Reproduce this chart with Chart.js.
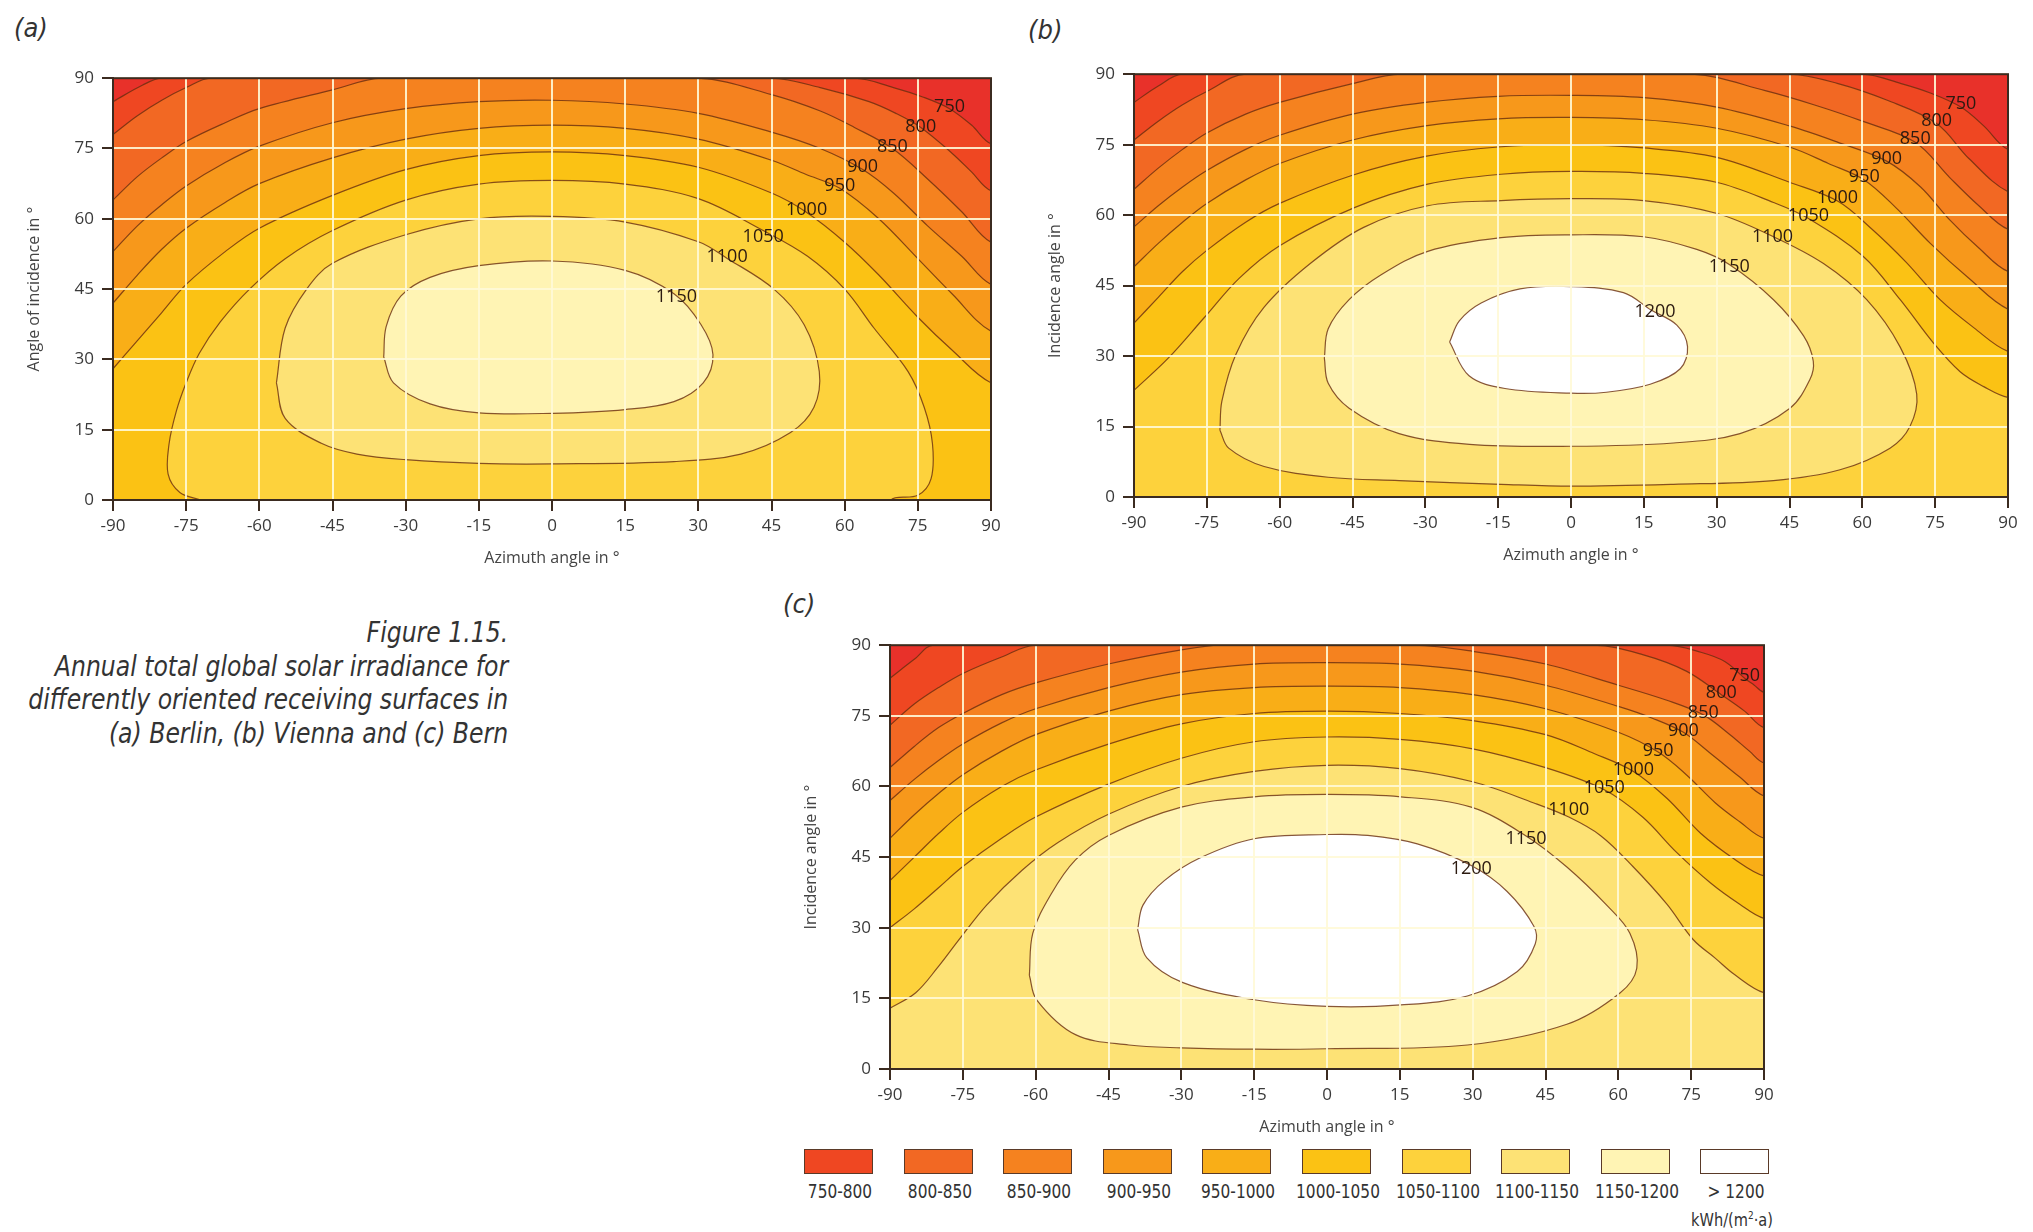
<!DOCTYPE html>
<html>
<head>
<meta charset="utf-8">
<script src="https://cdn.jsdelivr.net/npm/chart.js@4.4.1/dist/chart.umd.min.js"></script>
<style>
  body { margin: 0; width: 2033px; height: 1232px; background: #fff; position: relative; overflow: hidden; font-family: "Open Sans", sans-serif; }
  canvas { position: absolute; }
  .tag { position: absolute; font-family: "Liberation Sans Narrow", "DejaVu Sans Condensed", sans-serif; font-style: italic; font-size: 27px; color: #333; }
  .caption { position: absolute; right: 1525px; top: 616px; text-align: right; font-family: "Liberation Sans Narrow", "DejaVu Sans Condensed", sans-serif; font-style: italic; font-size: 28px; line-height: 33.5px; color: #333; white-space: nowrap; transform: scaleX(0.935); transform-origin: right top; }
  .lg-box { position: absolute; top: 1149px; width: 67px; height: 23px; border: 1.5px solid #5a3a28; }
  .lg-txt { position: absolute; top: 1180px; width: 100px; text-align: center; font-family: "Liberation Sans Narrow", "DejaVu Sans Condensed", sans-serif; font-size: 19px; color: #333; transform: scaleX(0.9); }
  .unit { position: absolute; right: 260px; top: 1209px; font-family: "Liberation Sans Narrow", "DejaVu Sans Condensed", sans-serif; font-size: 18px; color: #333; transform: scaleX(0.9); transform-origin: right top; }
</style>
</head>
<body>
<div class="tag" style="left:14px;top:12px">(a)</div>
<div class="tag" style="left:1028px;top:14px">(b)</div>
<div class="tag" style="left:783px;top:588px">(c)</div>

<canvas id="chartA" width="988" height="510" style="left:23px;top:60px"></canvas>
<canvas id="chartB" width="984" height="511" style="left:1044px;top:56px"></canvas>
<canvas id="chartC" width="984" height="512" style="left:800px;top:627px"></canvas>

<div class="caption">Figure 1.15.<br>Annual total global solar irradiance for<br>differently oriented receiving surfaces in<br>(a) Berlin, (b) Vienna and (c) Bern</div>
<div id="legend"></div>
<div class="unit">kWh/(m<sup style="font-size:11px">2</sup>·a)</div>

<script>
// contour levels and legend
const levels = [750, 800, 850, 900, 950, 1000, 1050, 1100, 1150, 1200];
const legendText = ['750-800', '800-850', '850-900', '900-950', '950-1000', '1000-1050', '1050-1100', '1100-1150', '1150-1200', '> 1200'];
const bandColors = ['#ef4722', '#f26823', '#f5821f', '#f7981b', '#f9ae17', '#fbc214', '#fdd23c', '#fde275', '#fff4b4', '#ffffff'];
const belowColor = '#e8312a';

// (a) Berlin - contour lines as [azimuth, tilt]
const A750 = [[-90,85],[-84,88.5],[-80,90],[62,90],[70,88],[76,86],[81.5,83.5],[86,80],[90,76]];
const A800 = [[-90,78],[-85,82],[-80,85.3],[-75,88],[-70,90],[45,90],[55,88],[65,85],[70.5,82.5],[75.6,79.5],[82,74],[86,70],[90,66]];
const A850 = [[-90,64],[-85,69],[-80,73],[-75,76.5],[-67,80.5],[-60,83.5],[-45,87.5],[-35,90],[30,90],[45,86.5],[55,83],[62,79.5],[69.8,75],[77,68.5],[84,61.5],[90,55]];
const A900 = [[-90,53],[-85,58.5],[-80,63],[-75,67],[-67,72],[-60,75.5],[-45,80.5],[-30,83.5],[-15,85],[0,85.3],[15,84.5],[30,82.5],[45,78.5],[55,75],[63.7,70.5],[70,65.5],[77,58.5],[84,52],[90,46]];
const A950 = [[-90,42],[-85,48],[-80,53.5],[-75,58],[-67,63.5],[-60,67.5],[-45,73],[-30,77],[-15,79.3],[0,80],[15,79.3],[30,77],[45,72.5],[52,69.5],[59,66.5],[67,60],[75,51.5],[82,44],[90,36]];
const A1000 = [[-90,28],[-85,34],[-80,40],[-75,46],[-67,53],[-60,58],[-45,65],[-30,70.5],[-15,73.5],[0,74.3],[15,73.5],[30,71],[45,65.5],[52,61.5],[60,55],[67,48],[75,39],[82,32],[90,25]];
const A1050 = [[-72,0],[-76.3,1.6],[-78.7,5.5],[-78.5,12],[-77,19],[-75,25],[-72.3,31.3],[-68,38],[-62,45],[-54.7,51.5],[-45,57.5],[-30,64],[-15,67.4],[0,68.2],[15,67.4],[30,64.3],[43.3,57.5],[52.4,52],[60,45],[66,36.7],[73,27.4],[76.3,19.8],[78,12],[77.7,4.5],[75,1],[69.5,0]];
const A1100 = [[-56.5,25],[-54.7,36.7],[-50.3,45],[-45,50.5],[-30,56.6],[-15,60],[0,60.5],[15,59.3],[30,55.1],[36,51.5],[45.5,45],[51.7,37.4],[54.8,27.4],[53.7,19.8],[48.9,14.4],[38.7,9.8],[25,8.2],[0,7.7],[-15,7.8],[-30,8.6],[-40,9.8],[-47.3,12.1],[-54.7,17.4],[-56.5,25]];
const A1150 = [[-34.5,30.5],[-34,37],[-31,43.5],[-25,47.5],[-15,50],[0,51],[15,49],[25,44],[30.5,37.5],[33,31],[31,25],[25,21],[15,19.3],[0,18.5],[-15,18.6],[-25,20.5],[-32.5,25],[-34.5,30.5]];
const labelsA = [[750,81.5,83.9],[800,75.6,79.7],[850,69.8,75.3],[900,63.7,71.1],[950,59,67],[1000,52.2,61.8],[1050,43.3,56.1],[1100,35.9,51.8],[1150,25.5,43.4]];

// (b) Vienna
const B750 = [[-90,84],[-85,87.5],[-80,90],[60,90],[68,88],[74,86],[80.3,83],[85,79],[90,74]];
const B800 = [[-90,76],[-85,80],[-80,83.5],[-75,86.3],[-67,90],[45,90],[55,88],[65,84.5],[75.3,79.5],[82,72],[90,65]];
const B850 = [[-90,65.5],[-85,70],[-80,74],[-75,77.5],[-67,81.5],[-60,84],[-45,88],[-35,90],[25,90],[40,86.5],[50,83.5],[60,80],[70.9,75.5],[78,68],[84,62],[90,57]];
const B900 = [[-90,57.5],[-85,62],[-80,66],[-75,69.5],[-67,74],[-60,77],[-45,81.5],[-30,84],[-15,85.3],[0,85.5],[15,85],[30,83],[45,79],[55,75.5],[65,71.5],[72,66],[78,59],[84,53],[90,48]];
const B950 = [[-90,49],[-85,54],[-80,58.5],[-75,62.5],[-67,67.5],[-60,71],[-45,76],[-30,79],[-15,80.5],[0,80.8],[15,80.3],[30,78.5],[45,74.5],[53,71],[60.4,67.5],[67,61.5],[74,54],[82,46.5],[90,40]];
const B1000 = [[-90,37],[-85,42.5],[-80,48],[-75,52.5],[-67,58.5],[-60,62.5],[-45,68.5],[-30,72.5],[-15,74.5],[0,75],[15,74.3],[30,72.3],[45,67],[54.9,63],[62,57],[69,50],[76,42],[83,36],[90,31]];
const B1050 = [[-90,22.7],[-82.9,29.6],[-75.6,38.1],[-68.3,46.6],[-60,53.5],[-44.6,61.6],[-29.5,66.6],[-14.4,68.7],[0,69.3],[14.9,68.9],[29.9,67],[41.7,62.7],[48.9,59.3],[60.2,51.2],[67.8,42],[74.7,32.7],[80.2,26.6],[85,23.5],[90,21.2]];
const B1100 = [[-72.3,14.2],[-71.9,20.4],[-69,30.4],[-63.2,40.4],[-53.7,49.7],[-42.7,57.4],[-29.5,62],[-14.4,63.1],[0,63.5],[14.9,63.1],[29.9,60.4],[41.5,55.5],[52,49.7],[60.9,42],[67.8,31.9],[71.2,21.9],[69.8,15],[65.7,10.4],[55.4,5.8],[41.7,3.5],[21.1,2.7],[0,2.3],[-14.4,2.7],[-35.4,3.5],[-50,4.2],[-63.2,6.5],[-70.5,10.4],[-72.3,14.2]];
const B1150 = [[-50.8,29.6],[-50,35.8],[-45.7,42],[-39.1,47.3],[-29.5,52.3],[-14.4,55.2],[0,55.8],[14.9,55.4],[25.9,52.7],[32.6,49.5],[41.7,42],[47.9,34.3],[49.9,28.9],[49.2,25],[45.1,18.9],[34.8,13.5],[21.1,11.5],[0,10.8],[-20.9,11.2],[-35.4,13.5],[-45.7,18.9],[-50,24.2],[-50.8,29.6]];
const B1200 = [[-25,33],[-23,37.5],[-18.5,41.3],[-10.5,44.3],[0,44.8],[10.8,43.5],[16.5,39.8],[21.8,36.6],[24,32],[22.5,27.3],[16.3,24],[7.3,22.3],[0,22.1],[-13.6,23.1],[-21,25.8],[-25,33]];
const labelsB = [[750,80.3,83.7],[800,75.3,80],[850,70.9,76.2],[900,65,72],[950,60.4,68.1],[1000,54.9,63.7],[1050,48.9,59.8],[1100,41.5,55.3],[1150,32.6,48.9],[1200,17.3,39.5]];

// (c) Bern
const C750 = [[-90,83],[-85,87],[-81,90],[70,90],[77,88.5],[82,86.5],[86,83],[88,81.5],[90,80]];
const C800 = [[-90,73],[-85,77.5],[-80,81],[-75,84],[-67,87.5],[-60,90],[55,90],[65,88],[74,84.5],[81.2,79.5],[86,76],[90,72.5]];
const C850 = [[-90,64],[-85,68.5],[-80,72.5],[-75,75.5],[-67,79.5],[-60,82],[-45,86],[-30,89],[-22,90],[18,90],[30,88.7],[45,86],[60,81.5],[70,78.3],[77.5,75.2],[83,71],[87,67.5],[90,65]];
const C900 = [[-90,57],[-85,61.5],[-80,65.5],[-75,69],[-67,73.5],[-60,76.5],[-45,81],[-30,84.3],[-15,86],[0,86.3],[15,86],[30,84.5],[45,81.5],[60,77],[67,74.5],[73.4,71.5],[79,67],[85,62],[90,58]];
const C950 = [[-90,49],[-85,54],[-80,58.5],[-75,62.5],[-67,67.5],[-60,71],[-45,76],[-30,79.5],[-15,81],[0,81.3],[15,81],[30,79.5],[45,76.5],[60,71.5],[68.2,67.3],[74,62.5],[80,56.5],[85,52.5],[90,49]];
const C1000 = [[-90,40],[-85,45],[-80,50],[-75,54.5],[-67,60],[-60,63.5],[-45,69],[-30,73.3],[-15,75.5],[0,76],[15,75.5],[30,74],[45,71],[55,67],[63.1,63.2],[70,57.5],[77,50],[84,44.5],[90,41]];
const C1050 = [[-90,30],[-85,34],[-80,38.5],[-75,43],[-67,49],[-60,53.5],[-45,60.5],[-30,66],[-15,69.5],[0,70.5],[15,70],[30,68],[45,64],[57.1,59.3],[65,53.5],[72,46],[79,39.5],[85,35],[90,32]];
const C1100 = [[-90,12.9],[-84.7,16.2],[-80.3,21.4],[-75.9,27.3],[-70.1,34.8],[-62.8,42.2],[-55.4,48.1],[-45,54.1],[-30,60],[-15,63.2],[0,64.5],[15,63.8],[30,61],[42.6,56.5],[49.8,53.5],[56.3,49.6],[63,43],[70,35],[75.4,27.5],[80,23.5],[84,20],[90,16.2]];
const C1150 = [[-61.3,19.9],[-60.6,28.8],[-56.9,37],[-51.8,44.4],[-45,49.6],[-30,55.6],[-15,57.8],[0,58.3],[15.2,57.8],[29.7,55.6],[41,49.5],[49.4,42.9],[57.6,34.8],[62.4,28.8],[63.8,21.4],[60.4,16.2],[49.4,9.5],[28.9,5.1],[0,4.3],[-15,4.2],[-30,4.5],[-40.8,5.1],[-51.8,7.3],[-59.8,14.7],[-61.3,19.9]];
const C1200 = [[-39,29.6],[-37.9,34.8],[-33.5,40],[-26.2,44.8],[-15,48.9],[0,49.8],[8.4,49.6],[18.6,47.8],[29.7,43.2],[37.1,37.7],[42.6,30.3],[42.9,26.6],[39.2,20.7],[28.9,15.5],[15.2,13.6],[0,13.3],[-15,14.7],[-29.8,18.4],[-37.1,23.6],[-39,29.6]];
const labelsC = [[750,86,83.4],[800,81.2,79.9],[850,77.5,75.6],[900,73.4,71.9],[950,68.2,67.6],[1000,63.1,63.6],[1050,57.1,59.7],[1100,49.8,55],[1150,41,48.9],[1200,29.7,42.4]];

const azTicks = {min: -90, max: 90, step: 15};
const tiltTicks = {min: 0, max: 90, step: 15};

// ---- closing an open contour around the outside of the plot (clockwise) ----
const E = 6;
function edgeOf(p) {
  if (Math.abs(p[1] - tiltTicks.max) < 1e-6) return 'top';
  if (Math.abs(p[0] - azTicks.max) < 1e-6) return 'right';
  if (Math.abs(p[1] - tiltTicks.min) < 1e-6) return 'bottom';
  return 'left';
}
function perim(p) {
  const e = edgeOf(p);
  if (e === 'top') return p[0] - azTicks.min;
  if (e === 'right') return 180 + (tiltTicks.max - p[1]);
  if (e === 'bottom') return 270 + (azTicks.max - p[0]);
  return 450 + (p[1] - tiltTicks.min);
}
function outward(p) {
  const e = edgeOf(p);
  if (e === 'top') return [p[0], tiltTicks.max + E];
  if (e === 'right') return [azTicks.max + E, p[1]];
  if (e === 'bottom') return [p[0], tiltTicks.min - E];
  return [azTicks.min - E, p[1]];
}
const corners = [
  [180, [azTicks.max + E, tiltTicks.max + E]],
  [270, [azTicks.max + E, tiltTicks.min - E]],
  [450, [azTicks.min - E, tiltTicks.min - E]],
  [540, [azTicks.min - E, tiltTicks.max + E]]
];
function closeShape(pts) {
  const a = pts[0], b = pts[pts.length - 1];
  if (a[0] === b[0] && a[1] === b[1]) return pts;
  const tEnd = perim(b);
  const span = (perim(a) - tEnd + 540) % 540;
  const walk = corners
    .map(([t, c]) => [(t - tEnd + 540) % 540, c])
    .filter(([d]) => d > 0 && d < span)
    .sort((m, n) => m[0] - n[0])
    .map(([, c]) => c);
  return [...pts, outward(b), ...walk, outward(a), a];
}

const plotBackground = {
  id: 'plotBackground',
  beforeDatasetsDraw(chart) {
    const {ctx, chartArea: c} = chart;
    ctx.save();
    ctx.fillStyle = belowColor;
    ctx.fillRect(c.left, c.top, c.right - c.left, c.bottom - c.top);
    ctx.restore();
  }
};

const frameAndLabels = {
  id: 'frameAndLabels',
  afterDraw(chart, args, opts) {
    const {ctx, chartArea: c, scales} = chart;
    ctx.save();
    ctx.font = '18px "Open Sans"';
    ctx.fillStyle = '#2b1a10';
    ctx.textAlign = 'center';
    ctx.textBaseline = 'middle';
    opts.labels.forEach(([lv, az, t]) => {
      ctx.fillText(String(lv), scales.x.getPixelForValue(az), scales.y.getPixelForValue(t));
    });
    ctx.strokeStyle = '#3b2b20';
    ctx.lineWidth = 2;
    ctx.strokeRect(c.left, c.top, c.right - c.left, c.bottom - c.top);
    ctx.restore();
  }
};

function makePanel(id, yTitle, lines, labels) {
  const datasets = lines.map((pts, i) => ({
    level: levels[i],
    data: closeShape(pts).map(p => ({x: p[0], y: p[1]})),
    fill: 'shape',
    backgroundColor: bandColors[i],
    borderColor: 'rgba(105,45,15,0.8)',
    borderWidth: 1.2,
    pointRadius: 0,
    tension: 0.35
  })).reverse(); // inner (higher) levels drawn on top

  const tickFont = {family: 'Open Sans', size: 17};
  const titleFont = {family: 'Open Sans', size: 16};

  return new Chart(document.getElementById(id), {
    type: 'line',
    data: {datasets},
    options: {
      responsive: false,
      animation: false,
      events: [],
      layout: {padding: {top: 10, right: 20, left: 0, bottom: 0}},
      elements: {line: {capBezierPoints: false}},
      scales: {
        x: {
          type: 'linear',
          min: azTicks.min, max: azTicks.max,
          afterFit: s => { s.height = 70; },
          grid: {color: 'rgba(255,250,215,0.9)', lineWidth: 2, z: 1, tickColor: '#3b2b20', tickLength: 11, tickWidth: 2},
          border: {color: '#3b2b20', width: 2, z: 2},
          ticks: {stepSize: azTicks.step, color: '#3a3a3a', font: tickFont, padding: 5, maxRotation: 0, autoSkip: false},
          title: {display: true, text: 'Azimuth angle in °', color: '#444', font: titleFont, padding: {top: 0, bottom: 2}}
        },
        y: {
          min: tiltTicks.min, max: tiltTicks.max,
          afterFit: s => { s.width = 90; },
          grid: {color: 'rgba(255,250,215,0.9)', lineWidth: 2, z: 1, tickColor: '#3b2b20', tickLength: 11, tickWidth: 2},
          border: {color: '#3b2b20', width: 2, z: 2},
          ticks: {stepSize: tiltTicks.step, color: '#3a3a3a', font: tickFont, padding: 8},
          title: {display: true, text: yTitle, color: '#444', font: titleFont, padding: {top: 2, bottom: 0}}
        }
      },
      plugins: {
        legend: {display: false},
        tooltip: {enabled: false},
        frameAndLabels: {labels}
      }
    },
    plugins: [plotBackground, frameAndLabels]
  });
}

makePanel('chartA', 'Angle of incidence in °', [A750, A800, A850, A900, A950, A1000, A1050, A1100, A1150], labelsA);
makePanel('chartB', 'Incidence angle in °', [B750, B800, B850, B900, B950, B1000, B1050, B1100, B1150, B1200], labelsB);
makePanel('chartC', 'Incidence angle in °', [C750, C800, C850, C900, C950, C1000, C1050, C1100, C1150, C1200], labelsC);

// colour key under panel (c)
const legend = document.getElementById('legend');
legendText.forEach((txt, i) => {
  const left = 804 + i * 99.6;
  const box = document.createElement('div');
  box.className = 'lg-box';
  box.style.left = left + 'px';
  box.style.background = bandColors[i];
  legend.appendChild(box);
  const lab = document.createElement('div');
  lab.className = 'lg-txt';
  lab.style.left = (left - 14) + 'px';
  lab.textContent = txt;
  legend.appendChild(lab);
});
</script>
</body>
</html>
